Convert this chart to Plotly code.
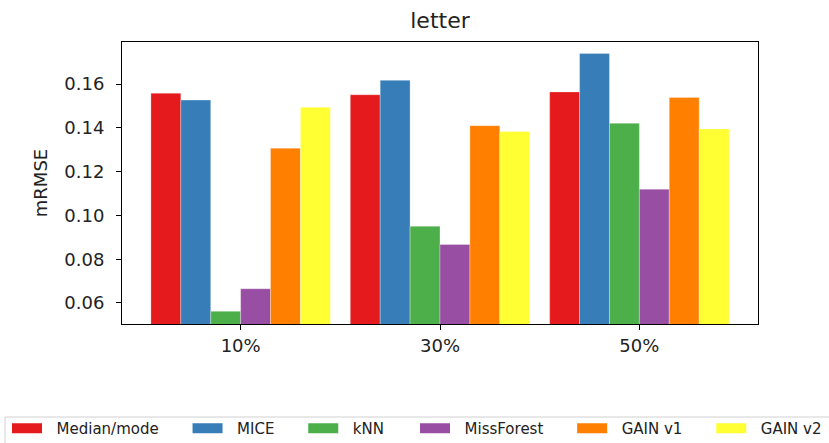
import plotly.graph_objects as go

categories = ["10%", "30%", "50%"]
series_names = ["Median/mode", "MICE", "kNN", "MissForest", "GAIN v1", "GAIN v2"]
median_mode = [0.1558, 0.1551, 0.1564]
mice = [0.1527, 0.1617, 0.1740]
knn = [0.0562, 0.0951, 0.1421]
missforest = [0.0665, 0.0867, 0.1120]
gain_v1 = [0.1307, 0.1410, 0.1539]
gain_v2 = [0.1494, 0.1383, 0.1395]
series_values = [median_mode, mice, knn, missforest, gain_v1, gain_v2]
colors = ["#e41a1c", "#377eb8", "#4daf4a", "#984ea3", "#ff7f00", "#ffff33"]
y_ticks = [0.06, 0.08, 0.10, 0.12, 0.14, 0.16]

W, H = 829, 443
L, R, T, B = 122, 71, 42, 119
PW, PH = W - L - R, H - T - B


def px_x(p):
    return (p - L) / PW


def px_y(p):
    return (H - B - p) / PH


fig = go.Figure()
for name, vals, col in zip(series_names, series_values, colors):
    fig.add_trace(go.Bar(
        x=categories, y=vals, name=name, legendgroup=name, showlegend=False,
        marker=dict(color=col, line=dict(color="rgba(255,255,255,0.6)", width=0.5)),
    ))

# legend entries with wide rectangular swatches (matplotlib-like), split over
# two legend blocks so the single row can span the full figure width
nb = "\u00a0"
half = 3
for i, (name, col) in enumerate(zip(series_names, colors)):
    last_in_block = (i == half - 1) or (i == len(series_names) - 1)
    label = nb * 2 + name + ("" if last_in_block else nb * 5)
    fig.add_trace(go.Scatter(
        x=[None], y=[None], mode="lines", name=label, legendgroup=name,
        legend="legend" if i < half else "legend2",
        line=dict(color=col, width=11), hoverinfo="skip",
    ))

font_family = "DejaVu Sans"
legend_common = dict(
    orientation="h", xanchor="left", yanchor="top", y=px_y(412),
    font=dict(size=15), borderwidth=0, bgcolor="rgba(0,0,0,0)",
    traceorder="normal", itemwidth=30,
)
fig.update_layout(
    width=W, height=H,
    margin=dict(l=L, r=R, t=T, b=B, autoexpand=False),
    paper_bgcolor="white", plot_bgcolor="white",
    barmode="group", bargap=0.1, bargroupgap=0,
    font=dict(family=font_family, size=18, color="#222"),
    title=dict(text="letter", x=(L + PW / 2) / W, xanchor="center",
               y=1 - 20 / H, yanchor="middle", font=dict(size=22)),
    showlegend=True,
    legend=dict(legend_common, x=px_x(7)),
    legend2=dict(legend_common, x=px_x(415)),
    shapes=[dict(
        type="rect", xref="paper", yref="paper",
        x0=px_x(5), x1=px_x(840), y0=px_y(417), y1=px_y(452),
        line=dict(color="#d0d0d0", width=1), fillcolor="rgba(0,0,0,0)",
        layer="below",
    )],
)
fig.update_xaxes(
    range=[-0.595, 2.595], showline=True, linecolor="black", linewidth=1, mirror=True,
    ticks="outside", ticklen=5, tickcolor="black", showgrid=False, automargin=False,
    tickfont=dict(size=18),
)
fig.update_yaxes(
    range=[0.0504, 0.1792], tickvals=y_ticks, tickformat=".2f",
    showline=True, linecolor="black", linewidth=1, mirror=True, automargin=False,
    ticks="outside", ticklen=5, tickcolor="black", showgrid=False, zeroline=False,
    ticklabelstandoff=8,
    title=dict(text="mRMSE", standoff=12, font=dict(size=18)),
    tickfont=dict(size=18),
)
fig.write_html("out.html", config={"displayModeBar": False},
               post_script="document.body.style.margin='0px';")
